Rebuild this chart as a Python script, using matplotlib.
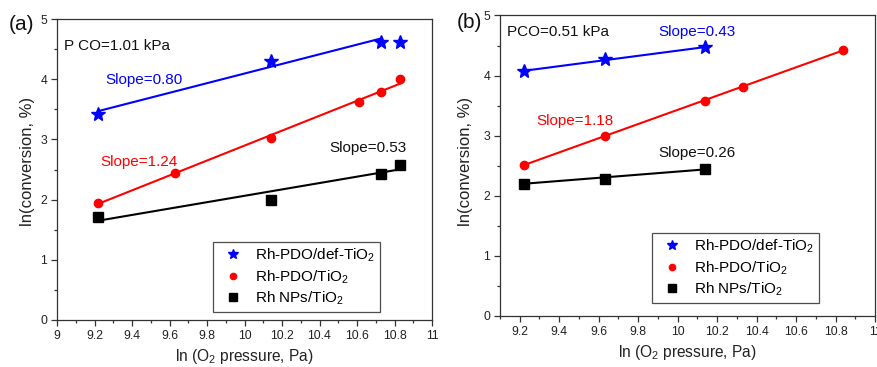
import matplotlib
matplotlib.use("Agg")
import matplotlib.pyplot as plt
import numpy as np
from matplotlib.ticker import MultipleLocator, FuncFormatter
from matplotlib.lines import Line2D

plt.rcParams['font.family'] = ['Liberation Sans', 'DejaVu Sans']
plt.rcParams['mathtext.fontset'] = 'custom'
plt.rcParams['mathtext.rm'] = 'Liberation Sans'

# ---------------- data ----------------
# panel (a): P CO = 1.01 kPa
a_def_x = [9.22, 10.14, 10.73, 10.83]
a_def_y = [3.43, 4.31, 4.62, 4.62]
a_pdo_x = [9.22, 9.63, 10.14, 10.61, 10.73, 10.83]
a_pdo_y = [1.95, 2.44, 3.03, 3.62, 3.78, 4.00]
a_np_x = [9.22, 10.14, 10.73, 10.83]
a_np_y = [1.71, 2.00, 2.43, 2.58]
a_slopes = [0.80, 1.24, 0.53]
a_intercepts = [-3.906, -9.503, -3.237]
a_fit_start = [9.22, 9.22, 9.22]
a_fit_end = [10.72, 10.83, 10.83]

# panel (b): P CO = 0.51 kPa
b_def_x = [9.22, 9.63, 10.14]
b_def_y = [4.08, 4.27, 4.48]
b_pdo_x = [9.22, 9.63, 10.14, 10.33, 10.84]
b_pdo_y = [2.51, 3.00, 3.57, 3.81, 4.43]
b_np_x = [9.22, 9.63, 10.14]
b_np_y = [2.20, 2.28, 2.44]
b_slopes = [0.43, 1.18, 0.26]
b_intercepts = [0.115, -8.370, -0.197]
b_fit_start = [9.22, 9.22, 9.22]
b_fit_end = [10.14, 10.84, 10.14]

labels = ['Rh-PDO/def-TiO$_2$', 'Rh-PDO/TiO$_2$', 'Rh NPs/TiO$_2$']
colors = ['#0000ff', '#ff0000', '#000000']
markers = ['*', 'o', 's']
msizes = [10, 6, 7]

fig = plt.figure(figsize=(8.78, 3.67), dpi=100)
axa = fig.add_axes([57/878, 1-320/367, 375/878, 301/367])
axb = fig.add_axes([500/878, 1-316/367, 375/878, 300.5/367])

spine_c = '#333333'

def style(ax, xlim, ylab_xy):
    ax.set_xlim(*xlim)
    ax.set_ylim(0, 5)
    ax.xaxis.set_major_locator(MultipleLocator(0.2))
    ax.xaxis.set_minor_locator(MultipleLocator(0.1))
    ax.yaxis.set_major_locator(MultipleLocator(1))
    ax.yaxis.set_minor_locator(MultipleLocator(0.5))
    ax.xaxis.set_major_formatter(FuncFormatter(lambda v, p: f'{v:g}'))
    ax.tick_params(which='both', direction='out', top=False, right=False,
                   colors=spine_c, labelsize=8.8, labelcolor='#222222', width=0.9)
    ax.tick_params(which='major', length=4, pad=3)
    ax.tick_params(which='minor', length=2)
    for s in ax.spines.values():
        s.set_color(spine_c)
        s.set_linewidth(0.9)
    ax.set_xlabel('ln (O$_2$ pressure, Pa)', fontsize=11.2, color='#222222', labelpad=4)
    ax.set_ylabel('ln(conversion, %)', fontsize=12, color='#222222')
    ax.yaxis.set_label_coords(*ylab_xy)

def draw(ax, series, slopes, intercepts, starts, ends):
    for (x, y), c, m, ms in zip(series, colors, markers, msizes):
        ax.plot(x, y, linestyle='none', marker=m, color=c, markersize=ms, zorder=3)
    for k, c, s0, s1, c0 in zip(slopes, intercepts, starts, ends, colors):
        xs = np.array([s0, s1])
        ax.plot(xs, k * xs + c, color=c0, linewidth=1.5, zorder=2)

draw(axa, [(a_def_x, a_def_y), (a_pdo_x, a_pdo_y), (a_np_x, a_np_y)],
     a_slopes, a_intercepts, a_fit_start, a_fit_end)
draw(axb, [(b_def_x, b_def_y), (b_pdo_x, b_pdo_y), (b_np_x, b_np_y)],
     b_slopes, b_intercepts, b_fit_start, b_fit_end)

style(axa, (9, 11), (-0.059, 0.528))
style(axb, (9.1, 11), (-0.072, 0.516))

def legend(ax, anchor):
    handles = [Line2D([], [], linestyle='none', marker=m, color=c, markersize=ms*0.75)
               for m, c, ms in zip(markers, colors, msizes)]
    leg = ax.legend(handles, labels, loc='lower right', bbox_to_anchor=anchor,
                    borderaxespad=0, fontsize=11, frameon=True, fancybox=False,
                    handlelength=2.0, handletextpad=0.44, labelspacing=0.25,
                    borderpad=0.3, edgecolor='#222222')
    leg.get_frame().set_linewidth(0.9)

legend(axa, (0.861, 0.027))
legend(axb, (0.851, 0.043))

# annotations panel (a)
axa.text(9.04, 4.55, 'P CO=1.01 kPa', fontsize=11, color='#111111', va='center')
axa.text(9.26, 3.98, 'Slope=0.80', fontsize=11, color='#0000ff', va='center')
axa.text(9.23, 2.62, 'Slope=1.24', fontsize=11, color='#ff0000', va='center')
axa.text(10.45, 2.85, 'Slope=0.53', fontsize=11, color='#111111', va='center')

# annotations panel (b)
axb.text(9.135, 4.73, 'PCO=0.51 kPa', fontsize=11, color='#111111', va='center')
axb.text(9.90, 4.73, 'Slope=0.43', fontsize=11, color='#0000ff', va='center')
axb.text(9.283, 3.25, 'Slope=1.18', fontsize=11, color='#ff0000', va='center')
axb.text(9.90, 2.72, 'Slope=0.26', fontsize=11, color='#111111', va='center')

fig.text(22/878, 1-24/367, '(a)', fontsize=15, ha='center', va='center', color='#111111')
fig.text(469/878, 1-23/367, '(b)', fontsize=15, ha='center', va='center', color='#111111')

fig.savefig('out.png', dpi=100)
